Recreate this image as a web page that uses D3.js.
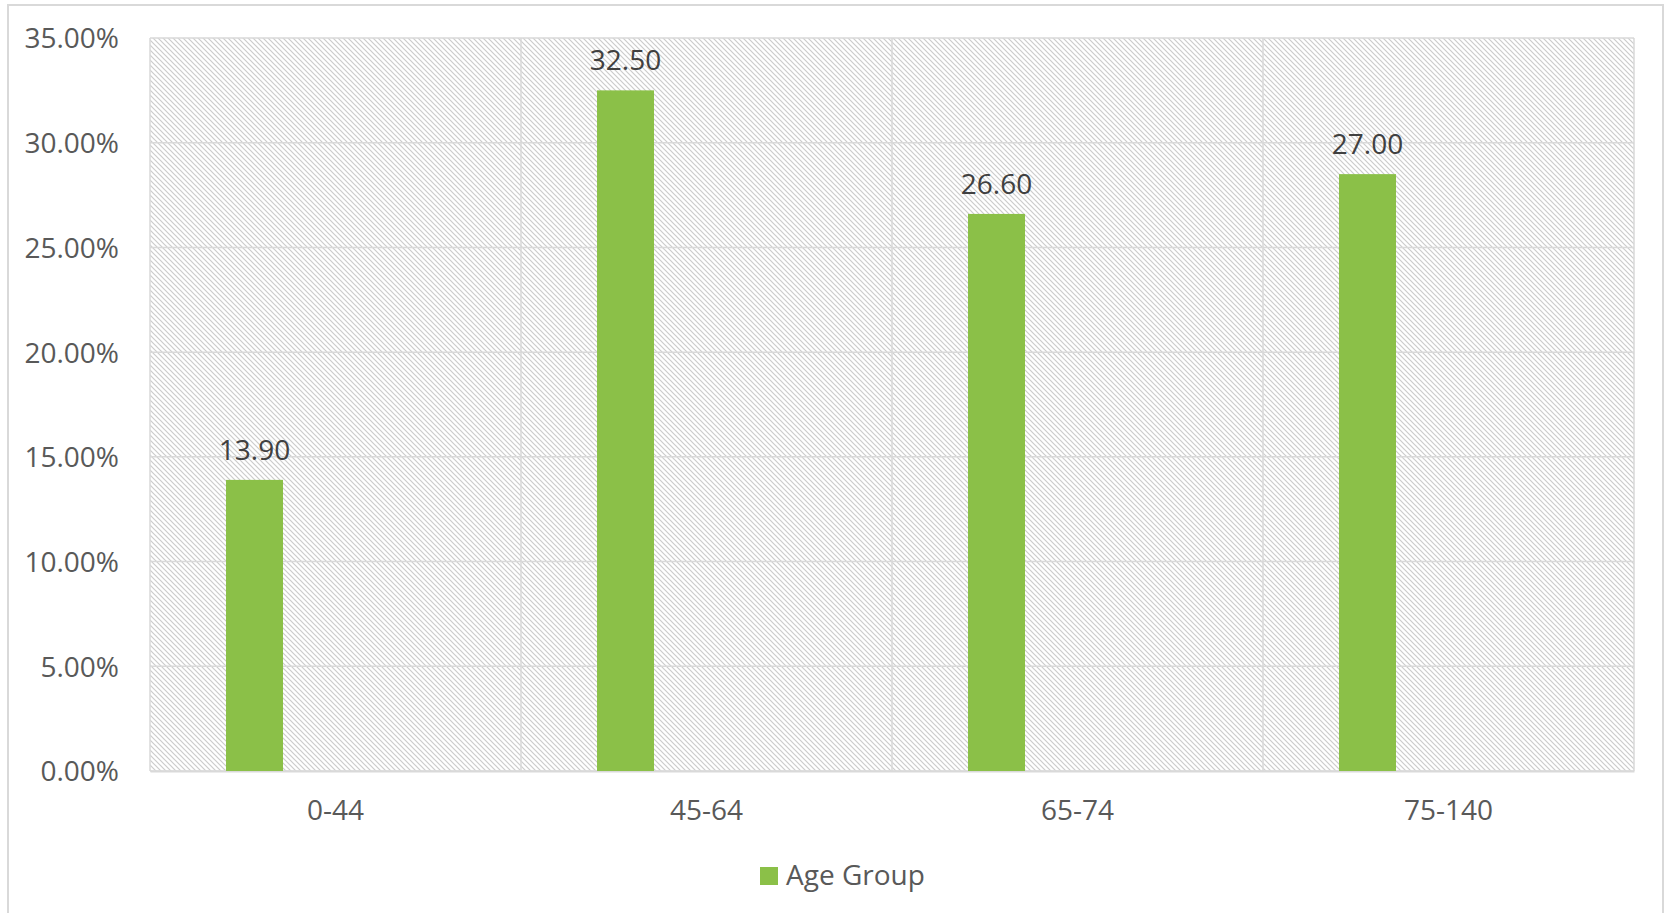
<!DOCTYPE html>
<html><head><meta charset="utf-8">
<script src="https://cdn.jsdelivr.net/npm/d3@7"></script>
<style>body{margin:0;background:#fff;} text{font-family:"Open Sans",sans-serif;}</style>
</head><body>
<svg id="chart" width="1667" height="913"></svg>
<script>
const categories = ["0-44","45-64","65-74","75-140"];
const values = [13.9, 32.5, 26.6, 28.5];
const valueLabels = ["13.90","32.50","26.60","27.00"];
const yTicks = [0,5,10,15,20,25,30,35];
const seriesName = "Age Group";

const svg = d3.select("#chart");
const m = {left:150, top:38, right:1634, bottom:771};

const defs = svg.append("defs");
const pat = defs.append("pattern").attr("id","hatch").attr("patternUnits","userSpaceOnUse")
  .attr("width",5).attr("height",5);
pat.append("rect").attr("width",5).attr("height",5).attr("fill","#fff");
pat.append("path").attr("d","M-1,-1 L6,6 M-1,4 L1,6 M4,-1 L6,1").attr("stroke","#cccccc").attr("stroke-width",1.2);

// outer frame
svg.append("rect").attr("x",8).attr("y",5).attr("width",1655).attr("height",920)
  .attr("fill","#fff").attr("stroke","#d9d9d9").attr("stroke-width",2);

const x = d3.scaleBand().domain(categories).range([m.left,m.right]);
const y = d3.scaleLinear().domain([0,35]).range([m.bottom,m.top]);

svg.append("rect").attr("x",m.left).attr("y",m.top).attr("width",m.right-m.left).attr("height",m.bottom-m.top)
  .attr("fill","url(#hatch)");

// gridlines
svg.append("g").selectAll("line").data(yTicks).join("line")
  .attr("x1",m.left).attr("x2",m.right).attr("y1",d=>y(d)).attr("y2",d=>y(d))
  .attr("stroke","#d9d9d9").attr("stroke-width",1.5);
svg.append("g").selectAll("line").data(categories.concat(["__end"])).join("line")
  .attr("x1",(d,i)=>m.left+i*x.bandwidth()).attr("x2",(d,i)=>m.left+i*x.bandwidth())
  .attr("y1",m.top).attr("y2",m.bottom).attr("stroke","#d9d9d9").attr("stroke-width",1.5);

// y axis labels
const yAxis = svg.append("g").attr("transform",`translate(${m.left-31},1)`)
  .call(d3.axisLeft(y).tickValues(yTicks).tickFormat(d=>d.toFixed(2)+"%").tickSize(0).tickPadding(0));
yAxis.select(".domain").remove();
yAxis.selectAll("text").attr("font-size",28).attr("fill","#595959").attr("font-family","Open Sans");

// x axis labels
const xAxis = svg.append("g").attr("transform",`translate(0,${m.bottom})`)
  .call(d3.axisBottom(x).tickSize(0).tickPadding(29));
xAxis.select(".domain").attr("stroke","#d9d9d9").attr("stroke-width",2);
xAxis.selectAll("text").attr("font-size",28).attr("fill","#595959").attr("font-family","Open Sans");

// bars
const bw = x.bandwidth()*0.1536, off = x.bandwidth()*0.2049;
svg.append("g").selectAll("rect").data(values).join("rect")
  .attr("x",(d,i)=>x(categories[i])+off).attr("width",bw)
  .attr("y",d=>y(d)).attr("height",d=>y(0)-y(d)).attr("fill","#8bc048");

svg.append("g").selectAll("text").data(values).join("text")
  .attr("x",(d,i)=>x(categories[i])+off+bw/2).attr("y",d=>y(d)-20)
  .attr("text-anchor","middle").attr("font-size",28).attr("fill","#404040")
  .text((d,i)=>valueLabels[i]);

// legend
const lg = svg.append("g");
lg.append("rect").attr("x",760).attr("y",867).attr("width",18).attr("height",18).attr("fill","#8bc048");
lg.append("text").attr("x",786).attr("y",885).attr("font-size",28).attr("fill","#595959").text(seriesName);
</script>
</body></html>
